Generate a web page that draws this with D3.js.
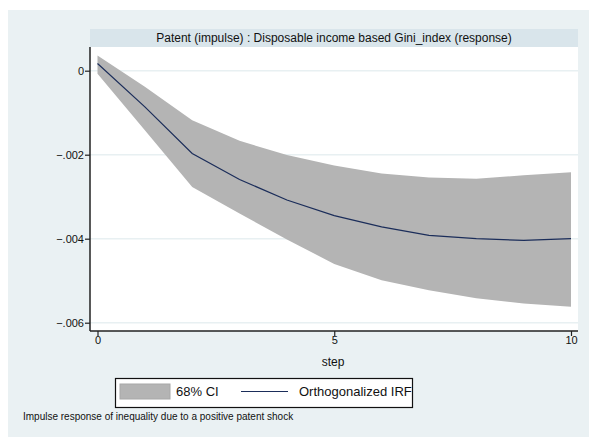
<!DOCTYPE html>
<html><head><meta charset="utf-8">
<script src="https://cdn.jsdelivr.net/npm/d3@7"></script>
<style>body{margin:0;background:#fff;font-family:"Liberation Sans",Arial,sans-serif;}</style>
</head><body><svg id="c" width="589" height="437"></svg>
<script>
const steps = [0,1,2,3,4,5,6,7,8,9,10];
const irf   = [0.00017,-0.00086,-0.00197,-0.00259,-0.00308,-0.00345,-0.00372,-0.00392,-0.00400,-0.00404,-0.00400];
const ciUpper = [0.00036,-0.00038,-0.00118,-0.00167,-0.00201,-0.00226,-0.00245,-0.00254,-0.00257,-0.00249,-0.00242];
const ciLower = [-0.00007,-0.00142,-0.00277,-0.00340,-0.00402,-0.00460,-0.00499,-0.00523,-0.00542,-0.00554,-0.00562];
const yTicks = [0,-0.002,-0.004,-0.006];
const xTicks = [0,5,10];
const title = "Patent (impulse) : Disposable income based Gini_index (response)";
const caption = "Impulse response of inequality due to a positive patent shock";

const svg = d3.select("#c");
svg.append("rect").attr("x",8).attr("y",10).attr("width",581).attr("height",427).attr("fill","#eaf1f3");
const L=90,R=578,T=47,B=331;
svg.append("rect").attr("x",L).attr("y",29).attr("width",R-L).attr("height",T-29).attr("fill","#d9e5eb");
svg.append("text").attr("x",(L+R)/2).attr("y",42).attr("text-anchor","middle").attr("font-size",12).attr("fill","#111").text(title);
svg.append("rect").attr("x",L).attr("y",T).attr("width",R-L).attr("height",B-T).attr("fill","#fff");

const x = d3.scaleLinear().domain([0,10]).range([97.5,571]);
const y = d3.scaleLinear().domain([0,-0.006]).range([70.7,322.7]);

svg.append("g").selectAll("line").data(yTicks).join("line")
  .attr("x1",L).attr("x2",R).attr("y1",d=>y(d)).attr("y2",d=>y(d))
  .attr("stroke","#e8f0f2").attr("stroke-width",1.5);

const band = d3.area().x((d,i)=>x(steps[i])).y0((d,i)=>y(ciLower[i])).y1((d,i)=>y(ciUpper[i]));
svg.append("path").datum(steps).attr("d",band).attr("fill","#b4b4b4");
const line = d3.line().x((d,i)=>x(steps[i])).y((d,i)=>y(irf[i]));
svg.append("path").datum(steps).attr("d",line).attr("fill","none").attr("stroke","#1b2d5a").attr("stroke-width",1.2);

const ya = d3.axisLeft(y).tickValues(yTicks).tickSize(5).tickFormat(d=>d===0?"0":d3.format(".3f")(d).replace("0.","."));
const gy = svg.append("g").attr("transform",`translate(${L},0)`).call(ya);
gy.select(".domain").attr("d",`M0,${T}V${B}`).attr("stroke","#222").attr("stroke-width",1.5);
gy.selectAll(".tick line").attr("stroke","#222").attr("stroke-width",1.2);
gy.selectAll("text").attr("font-size",11).attr("font-family","Liberation Sans, Arial").attr("fill","#111").attr("x",-6);

const xa = d3.axisBottom(x).tickValues(xTicks).tickSize(5).tickFormat(d3.format("d"));
const gx = svg.append("g").attr("transform",`translate(0,${B})`).call(xa);
gx.select(".domain").attr("d",`M${L},0H${R}`).attr("stroke","#222").attr("stroke-width",1.5);
gx.selectAll(".tick line").attr("stroke","#222").attr("stroke-width",1.2);
gx.selectAll("text").attr("font-size",11).attr("font-family","Liberation Sans, Arial").attr("fill","#111").attr("y",5);

svg.append("text").attr("x",(L+R)/2-1).attr("y",366).attr("text-anchor","middle").attr("font-size",12).attr("fill","#111").text("step");

svg.append("rect").attr("x",115.5).attr("y",378.5).attr("width",297).attr("height",29).attr("fill","#fff").attr("stroke","#111").attr("stroke-width",1.2);
svg.append("rect").attr("x",120).attr("y",384).attr("width",50).attr("height",15).attr("fill","#b4b4b4").attr("stroke","#a8a8a8");
svg.append("text").attr("x",176).attr("y",396).attr("font-size",13).attr("fill","#111").text("68% CI");
svg.append("line").attr("x1",241).attr("x2",288).attr("y1",391.5).attr("y2",391.5).attr("stroke","#1b2d5a").attr("stroke-width",1.2);
svg.append("text").attr("x",299).attr("y",396).attr("font-size",13).attr("fill","#111").text("Orthogonalized IRF");

svg.append("text").attr("x",23).attr("y",420).attr("font-size",10).attr("fill","#111").text(caption);
</script></body></html>
